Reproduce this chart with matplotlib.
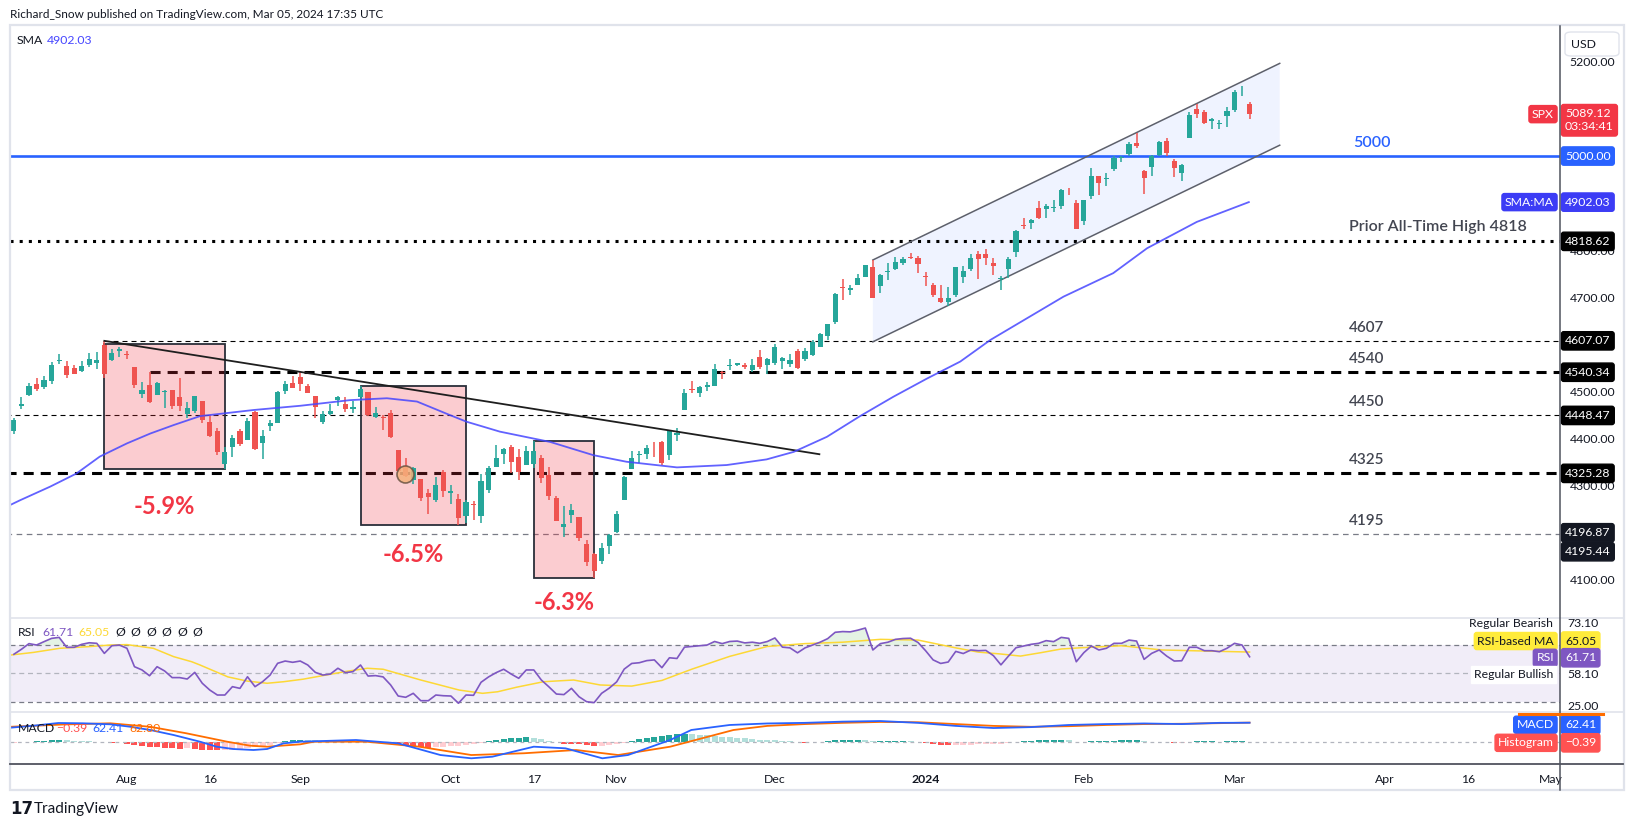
import numpy as np
import matplotlib.pyplot as plt
from matplotlib.patches import Rectangle, Polygon, FancyBboxPatch
from matplotlib.lines import Line2D
from matplotlib.transforms import blended_transform_factory

plt.rcParams['font.family'] = ['Lato', 'DejaVu Sans']

W, H = 1634, 827

# ---------------- data (S&P 500 daily, 11 Jul 2023 -> 5 Mar 2024) ----------------
opens = [4415.6, 4467.7, 4491.5, 4514.6, 4508.9, 4521.8, 4563.9, 4554.4, 4550.2, 4543.4, 4555.2, 4559.0, 4598.3, 4565.8, 4584.8,
         4578.8, 4550.9, 4494.3, 4514.0, 4491.6, 4498.0, 4501.6, 4487.2, 4450.7, 4458.1, 4478.9, 4433.8, 4416.3, 4344.9, 4380.3, 4415.3, 4396.4, 4455.2, 4389.4, 4426.0, 4432.8, 4500.3, 4517.0,
         4530.6, 4510.1, 4490.4, 4434.6, 4451.3, 4481.0, 4473.3, 4462.7, 4487.8, 4498.0, 4445.1, 4445.4, 4452.8, 4374.4, 4341.7, 4310.6, 4312.9, 4282.6, 4269.7, 4328.2,
         4284.5, 4269.8, 4233.8, 4259.3, 4234.8, 4289.0, 4339.8, 4366.6, 4380.9, 4360.5, 4342.4, 4345.2, 4357.4, 4321.4, 4273.9, 4210.4, 4235.8, 4232.4, 4176.0, 4152.9, 4139.4, 4171.3,
         4201.3, 4268.3, 4334.2, 4364.3, 4366.2, 4384.4, 4391.4, 4364.2, 4406.7, 4459.0, 4505.3, 4497.1, 4509.6, 4511.7, 4538.8, 4553.0, 4555.8, 4554.9, 4545.6, 4571.8, 4554.9,
         4559.4, 4564.4, 4557.3, 4586.2, 4568.8, 4576.2, 4593.4, 4618.3, 4646.2, 4721.0, 4714.2, 4725.6, 4743.7, 4764.7, 4724.3, 4753.9, 4758.9, 4773.5, 4786.4, 4782.9,
         4745.2, 4725.1, 4697.4, 4690.6, 4703.7, 4741.9, 4759.9, 4792.1, 4791.2, 4772.4, 4739.1, 4760.1, 4796.3, 4853.4, 4856.8, 4888.6, 4886.7, 4888.9, 4893.0, 4925.9, 4899.2,
         4861.1, 4916.1, 4957.2, 4950.2, 4973.1, 4995.2, 5004.2, 5026.8, 4967.9, 4976.4, 5003.1, 5031.1, 4989.3, 4963.0, 5038.8, 5100.9, 5093.0, 5074.6, 5067.2, 5085.4,
         5098.5, 5131.0, 5110.5]
highs = [4443.6, 4488.3, 4517.4, 4527.8, 4532.9, 4562.3, 4578.4, 4564.7, 4555.0, 4563.4, 4580.6, 4582.5, 4607.1, 4590.2, 4594.2,
         4584.6, 4550.9, 4519.5, 4540.3, 4519.8, 4503.3, 4502.4, 4527.4, 4476.2, 4490.3, 4478.9, 4450.0, 4421.2, 4381.8, 4407.6, 4418.6, 4443.2, 4458.3, 4418.5, 4439.6, 4500.1, 4521.7, 4532.3,
         4541.3, 4514.3, 4490.4, 4457.8, 4473.5, 4490.8, 4487.1, 4479.4, 4512.0, 4498.0, 4466.4, 4449.9, 4461.0, 4375.7, 4357.4, 4338.5, 4313.0, 4292.1, 4317.3, 4333.2,
         4300.6, 4281.2, 4268.5, 4267.1, 4324.1, 4341.7, 4385.5, 4378.6, 4385.9, 4377.1, 4383.3, 4393.6, 4364.2, 4339.5, 4276.6, 4255.8, 4259.4, 4232.4, 4183.6, 4156.7, 4177.5, 4195.6,
         4245.6, 4319.7, 4373.6, 4372.2, 4386.3, 4391.2, 4393.4, 4418.0, 4421.8, 4504.1, 4521.2, 4512.0, 4520.1, 4557.1, 4542.1, 4568.4, 4560.3, 4560.5, 4568.1, 4587.6, 4569.9,
         4599.4, 4572.4, 4578.6, 4590.7, 4590.9, 4609.2, 4623.7, 4643.9, 4709.7, 4738.6, 4725.5, 4749.5, 4768.7, 4778.0, 4748.7, 4772.9, 4784.7, 4785.4, 4793.3, 4788.4,
         4754.3, 4729.3, 4726.8, 4721.5, 4764.5, 4765.5, 4790.8, 4798.5, 4802.4, 4782.3, 4744.2, 4785.8, 4842.1, 4868.4, 4866.5, 4903.7, 4898.2, 4906.7, 4929.3, 4931.1, 4906.8,
         4907.0, 4975.3, 4957.2, 4963.1, 4999.9, 5000.4, 5030.1, 5048.4, 4971.3, 5002.5, 5032.7, 5038.7, 4993.7, 4983.2, 5094.4, 5111.1, 5097.7, 5080.7, 5077.4, 5105.0,
         5140.3, 5149.7, 5114.5]
lows = [4408.5, 4463.2, 4489.4, 4499.6, 4504.9, 4514.6, 4557.5, 4527.6, 4535.8, 4541.3, 4552.4, 4547.6, 4528.6, 4564.0, 4573.1,
        4567.5, 4505.8, 4485.5, 4474.6, 4491.2, 4464.4, 4461.3, 4457.9, 4444.0, 4453.4, 4432.2, 4403.6, 4364.8, 4335.3, 4360.3, 4382.8, 4396.4, 4375.6, 4356.3, 4415.0, 4431.7, 4493.6, 4507.4,
        4501.4, 4496.0, 4442.4, 4430.5, 4448.4, 4467.9, 4456.8, 4453.5, 4478.7, 4447.2, 4442.1, 4416.6, 4401.4, 4329.2, 4316.5, 4302.7, 4266.0, 4238.6, 4264.4, 4274.9,
        4260.2, 4216.5, 4220.5, 4225.9, 4219.6, 4283.8, 4339.6, 4345.3, 4325.4, 4312.0, 4342.4, 4337.5, 4303.8, 4269.7, 4223.0, 4189.2, 4219.4, 4181.4, 4127.9, 4103.8, 4132.9, 4153.1,
        4197.7, 4268.3, 4334.2, 4347.5, 4355.4, 4359.8, 4343.9, 4353.3, 4393.8, 4459.0, 4495.3, 4487.8, 4499.7, 4510.4, 4525.5, 4545.1, 4552.8, 4546.3, 4540.5, 4547.2, 4537.2,
        4554.7, 4546.7, 4551.7, 4546.5, 4565.2, 4574.1, 4593.4, 4608.1, 4643.2, 4694.3, 4704.7, 4725.6, 4743.7, 4697.8, 4708.4, 4736.8, 4758.5, 4768.9, 4781.0, 4752.0,
        4722.7, 4699.7, 4687.5, 4682.1, 4699.8, 4730.4, 4756.2, 4739.6, 4769.0, 4747.1, 4714.8, 4740.6, 4785.9, 4844.1, 4844.4, 4865.9, 4869.3, 4881.5, 4887.4, 4916.3, 4845.2,
        4853.5, 4908.0, 4918.1, 4936.9, 4969.1, 4987.1, 5000.3, 5016.8, 4920.3, 4956.5, 4999.4, 4999.5, 4955.0, 4946.0, 5038.8, 5081.5, 5068.9, 5057.3, 5058.4, 5061.9,
        5094.2, 5127.2, 5078.0]
closes = [4439.3, 4472.2, 4510.0, 4505.4, 4522.8, 4555.0, 4565.7, 4534.9, 4536.3, 4554.6, 4567.5, 4566.8, 4537.4, 4582.2, 4589.0,
          4576.7, 4513.4, 4501.9, 4478.0, 4518.4, 4499.4, 4467.7, 4468.8, 4464.1, 4489.7, 4437.9, 4404.3, 4370.4, 4369.7, 4399.8, 4387.6, 4436.0, 4376.3, 4405.7, 4433.3, 4497.6, 4514.9, 4507.7,
          4515.8, 4496.8, 4465.5, 4451.1, 4457.5, 4487.5, 4461.9, 4467.4, 4505.1, 4450.3, 4453.5, 4444.0, 4402.2, 4330.0, 4320.1, 4337.4, 4273.5, 4274.5, 4299.7, 4288.1,
          4288.4, 4229.5, 4263.8, 4258.2, 4308.5, 4335.7, 4358.2, 4377.0, 4349.6, 4327.8, 4373.6, 4373.2, 4314.6, 4278.0, 4224.2, 4217.0, 4247.7, 4186.8, 4137.2, 4117.4, 4166.8, 4193.8,
          4237.9, 4317.8, 4358.3, 4366.0, 4378.4, 4382.8, 4347.4, 4415.2, 4411.6, 4495.7, 4502.9, 4508.2, 4514.0, 4547.4, 4538.2, 4556.6, 4559.3, 4550.4, 4554.9, 4550.6, 4567.8,
          4594.6, 4569.8, 4567.2, 4549.3, 4585.6, 4604.4, 4622.4, 4643.7, 4707.1, 4719.6, 4719.2, 4740.6, 4768.4, 4698.4, 4746.8, 4754.6, 4774.8, 4781.6, 4783.4, 4769.8,
          4742.8, 4704.8, 4688.7, 4697.2, 4763.5, 4756.5, 4783.5, 4780.2, 4783.8, 4766.0, 4739.2, 4780.9, 4839.8, 4850.4, 4864.6, 4868.6, 4894.2, 4891.0, 4927.9, 4925.0, 4845.7,
          4906.2, 4958.6, 4942.8, 4954.2, 4995.1, 4997.9, 5026.6, 5021.8, 4953.2, 5000.6, 5029.7, 5005.6, 4975.5, 4981.8, 5087.0, 5088.8, 5069.5, 5078.2, 5069.8, 5096.3,
          5137.1, 5131.0, 5089.1]

# x axis: trading-day index of each labelled date
tick_pos = [15, 26, 38, 58, 69, 80, 101, 121, 142, 162, 182, 193, 204]
tick_lab = ['Aug', '16', 'Sep', 'Oct', '17', 'Nov', 'Dec', '2024', 'Feb', 'Mar', 'Apr', '16', 'May']

# 50 SMA
sma_x = [-0.5, 0.8, 4.8, 8.3, 11.4, 15, 18.1, 21.2, 24.7, 31.8, 38, 44.6, 49.5, 53.5, 57.9, 60.1, 64.5, 71.2, 76.9, 81.3,
         88, 94.6, 99.9, 103.5, 107.9, 112.3, 116.7, 121.2, 125.6, 129.6, 139.3, 145.9, 150.4, 157, 163.9]
sma_y = [4258, 4268, 4297, 4325, 4361, 4389, 4410, 4428, 4447, 4460, 4469, 4481, 4485, 4478, 4449, 4435, 4414, 4392, 4364, 4350,
         4338, 4343, 4355, 4371, 4403, 4447, 4488, 4527, 4563, 4609, 4701, 4751, 4804, 4860, 4902.03]

# RSI (one value per candle) and its MA
rsi = [63.5, 67, 71, 70, 72.4, 74.7, 75.4, 68.4, 68.4, 70.5, 71.6, 71.2, 64.1, 69.5, 70, 67.7, 54.7, 52.4, 48.3, 54.7,
       51.7, 47, 47, 46, 50.7, 43, 38.2, 34.7, 34.7, 40.6, 39.4, 47.6, 40.6, 44.1, 48.8, 57.1, 58.7, 57.8, 58.7,
       55.9, 50.7, 48.8, 49.5, 53.6, 50.5, 51.2, 55.9, 48.1, 48.4, 47.5, 41.8, 34.0, 33.1, 35.9, 30.7, 30.7, 34.7, 34.2, 34.0,
       28.9, 34.7, 34.5, 43.7, 47.5, 50.5, 52.9, 49.5, 46.5, 52.4, 52.4, 45.3, 40.5, 35.4, 35.0, 39.4, 33.5, 30.0, 29.3,
       35.9, 39.5, 44, 53, 57, 57.5, 59, 59.5, 54, 61, 60.5, 68.5, 69, 69.5, 70, 72.5, 71, 72.5, 72.8, 71.5, 72, 71.2,
       72.5, 75, 68.5, 68, 64.5, 68, 70, 72, 74.5, 79, 79.5, 79.3, 80.5, 82, 66.5, 71, 72, 74, 74.6, 74.8, 71.8,
       66, 59.5, 57, 58, 65.5, 64, 66.5, 66, 66.2, 62.5, 56,
       62.2, 68.1, 69.3, 70.5, 71.2, 73.1, 72.4, 75.4, 74.7, 58.2, 64.6, 69.3, 66.5, 67.7, 71.2, 71.2, 73.5, 72.8, 59.9,
       64.1, 66.5, 62.2, 58.7, 58.9, 68.4, 68.4, 66, 66, 65.3, 67.7, 71.2, 70, 61.71]
rsi_ma_x = [-0.5, 2.6, 6.1, 9.7, 12.8, 15, 18.5, 21.2, 23.6, 24.7, 28.4, 30.9, 33.6, 35.8, 38.4, 43.9, 46.9, 49, 54, 59.1,
            62.2, 64.2, 66.7, 70.3, 74.3, 77.8, 82, 86, 90, 95, 100, 105, 110, 115, 120, 125, 128, 130.9, 133.6, 136.3,
            139, 141.7, 147, 152.4, 157.8, 164]
rsi_ma_y = [62.9, 64.8, 67.7, 68.8, 70, 70.3, 67.7, 61.8, 58.2, 55.9, 47.5, 44.6, 43, 44.1, 45.9, 51.2, 53.6, 52.9, 45.3, 38.2,
            35.9, 37, 40.2, 44.1, 45.3, 41.8, 41, 45, 53, 62, 69, 71, 72, 74, 73.5, 68, 65, 63.7, 62.2, 64.6,
            67.2, 68.1, 69.5, 66.5, 65.8, 65.05]

# MACD, signal and histogram
macd_x = [-0.5, 2.6, 5.9, 9.2, 12.8, 15.4, 18.1, 21.2, 24.7, 26.9, 29.1, 31.8, 33.6, 35.8, 38, 45.4, 51, 56.6, 60.7, 63.5,
          69, 73.2, 78.1, 81.5, 87.1, 89.9, 95, 100, 105, 110, 115, 120, 125, 130, 135, 140, 145, 150, 155, 160, 164]
macd_y = [46, 52.6, 61.5, 60.5, 57.2, 49.3, 38.5, 22, 0, -16.4, -24, -27.3, -24, -5.3, 0, 5.6, -5.3, -43.8, -54.6, -49.3,
          -16.4, -21.7, -54.6, -43.8, 5.6, 38.5, 55, 60, 62, 66, 68, 62, 52, 45, 48, 55, 58, 60, 58, 62, 62.41]
sig_x = [-0.5, 7, 12.8, 18.1, 22.9, 28.3, 31.3, 33.6, 38, 39.8, 46.8, 53.8, 60.7, 67.7, 74.6, 80.2, 87.1, 95.5, 100, 105,
         110, 115, 120, 125, 130, 135, 140, 145, 150, 155, 160, 164]
sig_y = [49, 57, 60.5, 49, 27.6, 0, -13, -16.4, -8.6, 0, 0, -16.4, -43.8, -38, -27.3, -43.8, -16.4, 38.5, 52, 58,
         62, 65, 64, 58, 52, 49, 51, 55, 58, 59, 61, 62.8]
hist = [-3, -2, -1, 2, 3, 4, 5, 4, 3, 2, 1, 0.5, -2, -3, -2.5,
        -6, -10, -14, -18, -19, -21, -22, -23, -21, -24, -26, -27, -28, -28, -26, -24, -21, -18, -14, -10, -4, 1, 4, 6,
        5, 4, 3, 3, 4, 3, 3, 4, 2, 1, -1,
        -4, -9, -14, -17, -19, -20, -19, -17, -15, -14, -11, -8, -4,
        1, 5, 9, 11, 12, 14, 13,
        8, 3, -2, -6, -7, -9, -12, -15, -14, -12, -8, -3,
        3, 8, 13, 17, 19, 22, 24, 26, 25, 23, 21, 19, 17, 15, 13, 11, 9, 7, 5, 4, 2,
        1, -2, -3, -2, -1, 2, 5, 6, 6, 6, 5, 2, 2, 2, 2, 2, 1, 0,
        -3, -7, -10, -12, -11, -11, -10, -9, -8, -7, -7, -5, -1, 2, 3, 4, 5, 5, 5, 4,
        -1, 0, 2, 2, 2, 3, 4, 4, 4, 1, 0, -1, -2, -3, -3, -1, 1, 1, 1, 0, 1, 1, 1, -0.39]

# horizontal levels
lvl_val = [4607.07, 4540.34, 4448.47, 4325.28, 4196.87]
lvl_txt = ['4607', '4540', '4450', '4325', '4195']
lvl_from = [12, 18, -1, -1, -1]
ath = 4818.62
big = 5000

# drawdown boxes: start idx, end idx, top, bottom, label
box_x0 = [12, 46, 69]
box_x1 = [28, 60, 77]
box_top = [4600, 4512, 4393.6]
box_bot = [4335.3, 4216.5, 4103.8]
box_lab = ['-5.9%', '-6.5%', '-6.3%']
box_lab_y = [4254, 4152, 4050]

# trend line and channel
trend_x = [12, 106.9]
trend_y = [4607.07, 4366]
chan_x = [114, 168]
chan_up = [4779, 5197]
chan_lo = [4605, 5023]

# ---------------- figure ----------------
fig = plt.figure(figsize=(W / 100, H / 100), dpi=100)
fig.patch.set_facecolor('white')


def box(x0, y0, x1, y1):
    return [x0 / W, 1 - y1 / H, (x1 - x0) / W, (y1 - y0) / H]


def fx(xp):
    return xp / W


def fy(yp):
    return 1 - yp / H


ax = fig.add_axes(box(10, 26, 1560, 617.7))
ax_r = fig.add_axes(box(10, 617.7, 1560, 712.3), sharex=ax)
ax_m = fig.add_axes(box(10, 712.3, 1560, 764.3), sharex=ax)

for a in (ax, ax_r, ax_m):
    for s in a.spines.values():
        s.set_visible(False)
    a.tick_params(length=0)
    a.set_xlim(-0.52, 205.2)

GREEN, RED = '#26a69a', '#ef5350'
x = np.arange(len(closes))
o, h, l, c = map(np.array, (opens, highs, lows, closes))
col = np.where(c >= o, GREEN, RED)

# candles
ax.vlines(x, l, h, colors=col, lw=1.1, zorder=5)
ax.bar(x, np.maximum(np.abs(c - o), 1.6), 0.68, bottom=np.minimum(o, c), color=col, lw=0, zorder=6)

# levels
ax.axhline(big, color='#2962ff', lw=1.9, zorder=3)
ax.axhline(ath, color='black', lw=2.2, ls=(0, (1, 2)), dash_capstyle='butt', zorder=3)
styles = [dict(lw=0.8, ls=(0, (4.5, 3.6)), color='black'),
          dict(lw=2.2, ls=(0, (3.3, 2.3)), color='black'),
          dict(lw=0.8, ls=(0, (4.5, 3.6)), color='black'),
          dict(lw=2.2, ls=(0, (3.3, 2.3)), color='black'),
          dict(lw=0.9, ls=(0, (4.5, 3.6)), color='#787b86')]
LAB_X = 177.2
for v, t, x0, st in zip(lvl_val, lvl_txt, lvl_from, styles):
    ax.plot([x0, 206], [v, v], zorder=3, dash_capstyle='butt', **st)
    ax.annotate(t, (LAB_X, v), xytext=(0, 6), textcoords='offset pixels', ha='left', va='bottom',
                fontsize=11, color='#434651', fontweight='semibold')
ax.annotate('5000', (LAB_X + 0.5, big), xytext=(0, 6), textcoords='offset pixels', ha='left', va='bottom',
            fontsize=11.5, color='#2962ff', fontweight='semibold')
ax.annotate('Prior All-Time High 4818', (LAB_X, ath), xytext=(0, 7), textcoords='offset pixels', ha='left',
            va='bottom', fontsize=11.5, color='#434651', fontweight='semibold')

# boxes
for x0, x1, t, b, lab, ly in zip(box_x0, box_x1, box_top, box_bot, box_lab, box_lab_y):
    ax.add_patch(Rectangle((x0, b), x1 - x0, t - b, fc='#f23645', alpha=0.25, ec='none', zorder=4))
    ax.add_patch(Rectangle((x0, b), x1 - x0, t - b, fc='none', ec='#2a2e39', lw=1.3, zorder=4.5))
    ax.text((x0 + x1) / 2, ly, lab, ha='center', va='center', fontsize=17, color='#f23645', fontweight='bold')

# channel
ax.add_patch(Polygon([(chan_x[0], chan_up[0]), (chan_x[1], chan_up[1]), (chan_x[1], chan_lo[1]),
                      (chan_x[0], chan_lo[0])], closed=True, fc='#2962ff', alpha=0.07, ec='none', zorder=1))
ax.plot(chan_x, chan_up, color='#5d606b', lw=1.1, zorder=4)
ax.plot(chan_x, chan_lo, color='#5d606b', lw=1.1, zorder=4)

# trend line and SMA
ax.plot(trend_x, trend_y, color='#1e1e1e', lw=1.3, zorder=7)
ax.plot(sma_x, sma_y, color='#4646ff', lw=1.3, alpha=0.85, zorder=7)

# event marker
ax.scatter([51.9], [4325], s=150, fc='#f5b27c', ec='#6b5443', lw=1.2, alpha=0.85, zorder=8)

ax.set_ylim(4018.4, 5276.5)
ax.yaxis.tick_right()
shown = [4100, 4300, 4400, 4500, 4700, 4800, 5200]   # the rest sit under price tags
ax.set_yticks(shown)
ax.set_yticklabels(['%.2f' % v for v in shown], fontsize=8.8, color='#131722')
ax.tick_params(axis='y', pad=7)
ax.tick_params(axis='x', labelbottom=False)

# ---------------- RSI ----------------
rsi_a = np.array(rsi)
ax_r.axhspan(30, 70, color='#7e57c2', alpha=0.1, lw=0)
ax_r.axhline(70, color='#787b86', lw=0.9, ls=(0, (4, 3)))
ax_r.axhline(30, color='#787b86', lw=0.9, ls=(0, (4, 3)))
ax_r.axhline(50, color='#b2b5be', lw=0.9, ls=(0, (4, 3)))
ax_r.fill_between(x, rsi_a, 70, where=rsi_a > 70, interpolate=True, color='#4caf50', alpha=0.15, lw=0)
ax_r.fill_between(x, rsi_a, 30, where=rsi_a < 30, interpolate=True, color='#f23645', alpha=0.15, lw=0)
ax_r.plot(rsi_ma_x, rsi_ma_y, color='#fdd835', lw=1.1)
ax_r.plot(x, rsi_a, color='#7e57c2', lw=1.2)
ax_r.set_ylim(22.5, 89.3)
ax_r.set_yticks([])
ax_r.tick_params(axis='x', labelbottom=False)

# ---------------- MACD ----------------
hist_a = np.array(hist)
prev = np.r_[hist_a[0], hist_a[:-1]]
hcol = np.where(hist_a >= 0, np.where(hist_a >= prev, '#26a69a', '#b2dfdb'),
                np.where(hist_a < prev, '#ff5252', '#ffcdd2'))
ax_m.axhline(0, color='#b2b5be', lw=0.9, ls=(0, (3, 3)))
ax_m.bar(x, hist_a, 0.8, color=hcol, lw=0)
ax_m.plot(sig_x, sig_y, color='#ff6d00', lw=1.3)
ax_m.plot(macd_x, macd_y, color='#2962ff', lw=1.3)
ax_m.set_ylim(-74.3, 96.7)
ax_m.set_yticks([])
ax_m.set_xticks(tick_pos)
ax_m.set_xticklabels(tick_lab, fontsize=8.8, color='#131722')
ax_m.tick_params(axis='x', pad=7)
ax_m.get_xticklabels()[7].set_fontweight('bold')

# ---------------- chrome: frame, separators ----------------
fig.add_artist(Rectangle((fx(9.5), fy(790)), fx(1624) - fx(9.5), fy(24.5) - fy(790), transform=fig.transFigure,
                         fc='none', ec='#e0e3eb', lw=1.6))
for yy in (617.7, 712.3):
    fig.add_artist(Line2D([fx(10), fx(1623)], [fy(yy), fy(yy)], color='#e0e3eb', lw=1.2))
fig.add_artist(Line2D([fx(10), fx(1623)], [fy(764.3), fy(764.3)], color='#50535e', lw=1.3))
fig.add_artist(Line2D([fx(1560.3), fx(1560.3)], [fy(26), fy(790)], color='#50535e', lw=1.1))

fig.text(fx(10), fy(15), 'Richard_Snow published on TradingView.com, Mar 05, 2024 17:35 UTC',
         fontsize=8.5, color='#131722', va='center')
fig.add_artist(FancyBboxPatch((fx(1565), fy(56)), fx(1619) - fx(1565), fy(32) - fy(56),
                              boxstyle='round,pad=0,rounding_size=0.004', transform=fig.transFigure,
                              fc='white', ec='#e0e3eb', lw=1))
fig.text(fx(1583), fy(44), 'USD', fontsize=8.8, color='#131722', ha='center', va='center')

# legends
fig.text(fx(17), fy(41), 'SMA', fontsize=8.8, color='#131722', va='center')
fig.text(fx(47), fy(41), '4902.03', fontsize=8.8, color='#4646ff', va='center')
fig.text(fx(18), fy(632.3), 'RSI', fontsize=8.8, color='#131722', va='center')
fig.text(fx(42), fy(632.3), '61.71', fontsize=8.8, color='#7e57c2', va='center')
fig.text(fx(78), fy(632.3), '65.05', fontsize=8.8, color='#fdd835', va='center')
for k in range(6):
    fig.text(fx(115 + 15.5 * k), fy(632.3), 'Ø', fontsize=8.8, color='#131722', va='center')
fig.text(fx(18), fy(728.3), 'MACD', fontsize=8.8, color='#131722', va='center')
fig.text(fx(56), fy(728.3), '−0.39', fontsize=8.8, color='#ff5252', va='center')
fig.text(fx(92), fy(728.3), '62.41', fontsize=8.8, color='#2962ff', va='center')
fig.text(fx(129), fy(728.3), '62.80', fontsize=8.8, color='#ff6d00', va='center')

# TradingView mark
fig.text(fx(10), fy(809), '17', fontsize=12, fontweight='heavy', color='#131722', va='center', family='DejaVu Sans')
fig.text(fx(34), fy(809), 'TradingView', fontsize=11, color='#131722', va='center')


# ---------------- price tags ----------------
def tag_right(a, yv, text, fc, tc='white', dy=0, va='center'):
    tr = blended_transform_factory(a.transAxes, a.transData)
    a.annotate(text, xy=(1.0, yv), xycoords=tr, xytext=(5, dy), textcoords='offset pixels', ha='left', va=va,
               fontsize=8.8, color=tc, linespacing=1.25, annotation_clip=False, zorder=30,
               bbox=dict(boxstyle='round,pad=0.3,rounding_size=0.2', fc=fc, ec=fc))


def tag_left(a, yv, text, fc, tc='white', dy=0):
    tr = blended_transform_factory(a.transAxes, a.transData)
    a.annotate(text, xy=(1.0, yv), xycoords=tr, xytext=(-6, dy), textcoords='offset pixels', ha='right',
               va='center', fontsize=8.8, color=tc, annotation_clip=False, zorder=30,
               bbox=dict(boxstyle='round,pad=0.25,rounding_size=0.2', fc=fc, ec=fc))


tag_right(ax, closes[-1], '5089.12\n03:34:41', '#f23645', dy=6, va='top')
tag_left(ax, closes[-1], 'SPX', '#f23645')
tag_right(ax, big, '5000.00', '#2962ff')
tag_right(ax, sma_y[-1], '4902.03', '#3c3cf5')
tag_left(ax, sma_y[-1], 'SMA:MA', '#3c3cf5')
tag_right(ax, ath, '4818.62', 'black')
for v in lvl_val[:4]:
    tag_right(ax, v, '%.2f' % v, 'black')
tag_right(ax, 4196.87, '4196.87', '#131722', dy=1)
tag_right(ax, 4196.87, '4195.44', '#131722', dy=-18)

# RSI panel tags
fig.text(fx(1553), fy(623.3), 'Regular Bearish', fontsize=8.8, color='#131722', ha='right', va='center')
fig.text(fx(1567), fy(623.3), '73.10', fontsize=8.8, color='#131722', va='center')
tag_right(ax_r, 65.05, '65.05', '#ffeb3b', tc='#131722', dy=11)
tag_left(ax_r, 65.05, 'RSI-based MA', '#ffeb3b', tc='#131722', dy=11)
tag_right(ax_r, 61.71, '61.71', '#7e57c2', dy=-1)
tag_left(ax_r, 61.71, 'RSI', '#7e57c2', dy=-1)
fig.text(fx(1553), fy(674.5), 'Regular Bullish', fontsize=8.8, color='#131722', ha='right', va='center',
         bbox=dict(boxstyle='square,pad=0.25', fc='white', ec='white'))
fig.text(fx(1567), fy(674.3), '58.10', fontsize=8.8, color='#131722', va='center')
fig.text(fx(1567), fy(707), '25.00', fontsize=8.8, color='#131722', va='center')

# MACD panel tags (signal tag mostly hidden under the MACD tag)
fig.add_artist(Line2D([fx(1519), fx(1603)], [fy(713.8), fy(713.8)], color='#ff6d00', lw=2.2))
tag_right(ax_m, 62.41, '62.41', '#2962ff', dy=-2)
tag_left(ax_m, 62.41, 'MACD', '#2962ff', dy=-2)
tag_right(ax_m, -0.39, '−0.39', '#ff5252', dy=-1)
tag_left(ax_m, -0.39, 'Histogram', '#ff5252', dy=-1)

fig.savefig('out.png', dpi=100, facecolor='white')
